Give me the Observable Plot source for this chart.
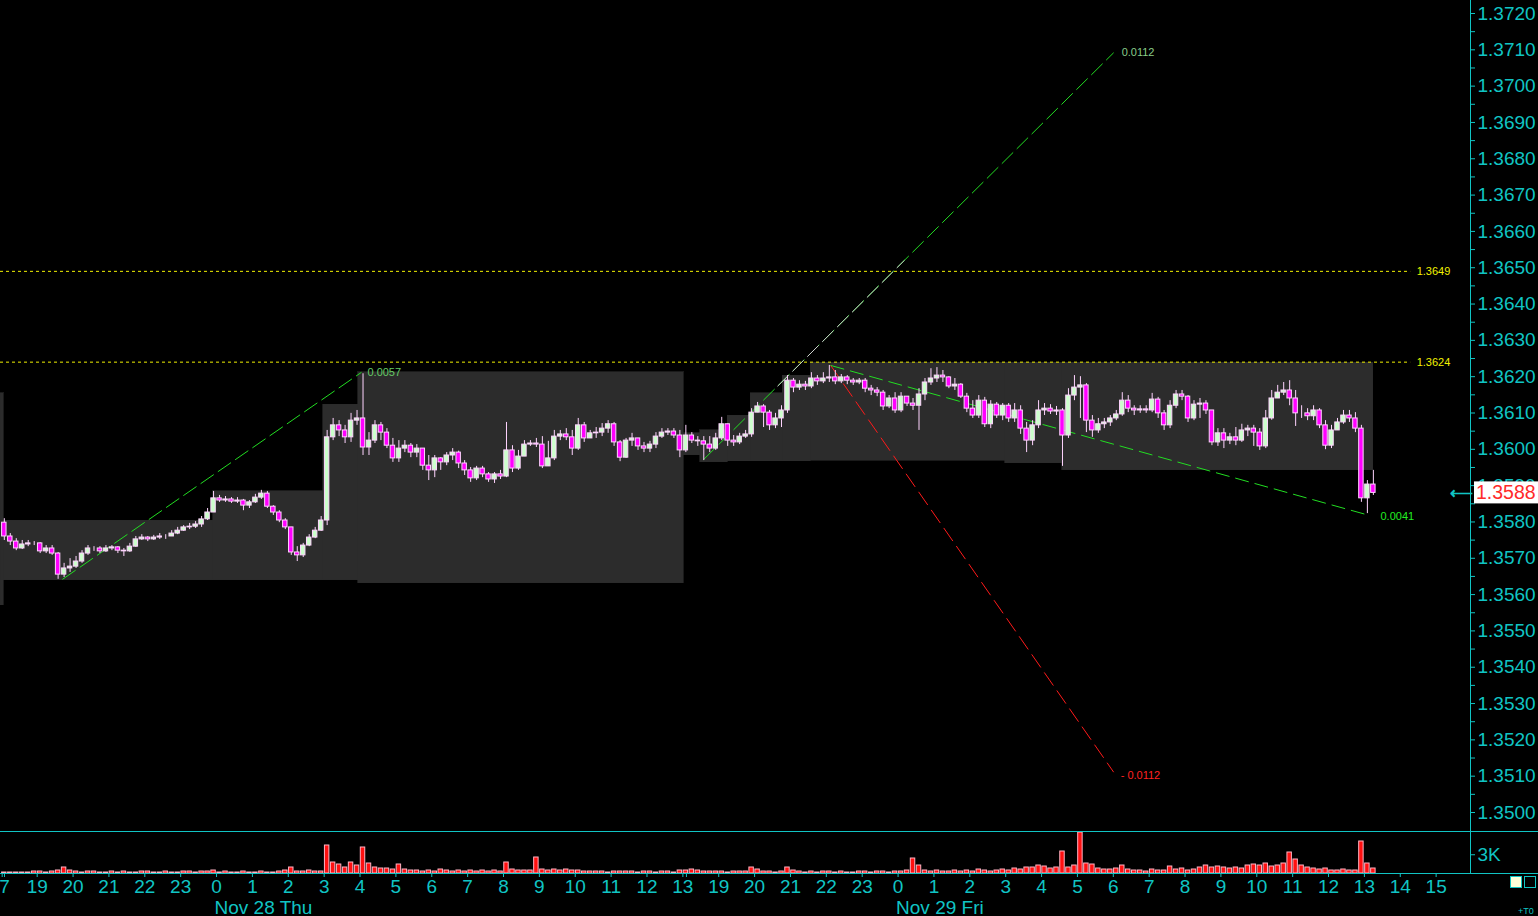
<!DOCTYPE html>
<html>
<head>
<meta charset="utf-8">
<script src="https://cdn.jsdelivr.net/npm/d3@7"></script>
<script src="https://cdn.jsdelivr.net/npm/@observablehq/plot@0.6"></script>
<style>
html,body{margin:0;padding:0;background:#000;}
#chart{position:relative;width:1538px;height:916px;overflow:hidden;background:#000;}
#chart svg{display:block;}
.sq{position:absolute;top:876px;width:10px;height:10px;border:1px solid #10c4c4;}
#tq{position:absolute;left:1518px;top:906px;font:9px 'Liberation Sans',Arial,sans-serif;color:#10c4c4;}
</style>
</head>
<body>
<div id="chart"></div>
<script>
// ---------------- data ----------------
// Price values are in pips (0.0001) above PRICE_BASE; one bar = 10 minutes (6 per hour slot)
const PRICE_BASE = 1.35, PIP = 0.0001;
const FIRST_SLOT = -1;         // hour slot where the first bar starts
const BARS_PER_HOUR = 6;
const firstOpenPips = 79.8;

const closePips = [
76.0,74.6,72.7,73.8,74.1,74.1,71.9,72.7,71.3,65.5,
67.2,67.7,69.1,71.3,72.7,72.7,71.9,72.7,73.0,72.1,
71.9,73.2,75.2,75.7,75.2,75.7,76.0,76.0,76.8,77.6,
78.5,78.7,79.3,80.7,82.6,86.5,85.9,86.2,85.6,85.9,
84.5,85.4,86.7,87.8,84.2,82.6,80.4,78.5,71.6,70.8,
73.5,75.7,77.6,80.4,103.3,106.6,105.2,103.3,107.9,108.5,
100.5,102.4,106.6,104.6,101.0,97.5,100.2,101.0,99.1,100.2,
95.5,94.2,97.5,96.4,98.3,99.1,96.1,94.2,92.0,94.7,
93.1,91.7,93.1,92.5,99.7,94.7,98.0,101.3,101.6,101.3,
95.3,97.5,103.5,104.1,103.3,100.2,106.6,103.0,104.4,104.6,
105.7,106.9,101.9,97.7,102.4,103.0,100.8,100.2,101.3,103.5,
104.6,104.9,103.8,99.7,103.8,102.4,102.2,101.3,100.2,103.0,
106.9,102.4,101.9,103.5,104.1,110.1,111.8,110.1,106.6,108.5,
110.7,118.9,117.0,117.8,117.3,119.5,118.7,119.5,119.8,118.7,
119.8,118.9,118.4,118.9,116.7,116.2,115.6,111.8,114.0,110.7,
114.5,112.6,112.0,115.1,118.4,119.5,120.3,119.8,117.3,117.8,
114.5,111.2,109.3,113.4,106.9,112.3,109.3,112.0,108.5,110.7,
105.7,102.4,106.6,110.7,111.2,110.4,110.7,103.8,114.8,117.0,
117.6,107.9,105.2,106.9,107.4,108.5,109.6,113.4,111.2,110.7,
111.0,110.7,113.7,109.9,106.6,112.0,115.1,114.5,108.5,112.3,
112.6,110.7,101.9,104.4,102.4,103.3,102.4,105.2,105.7,104.6,
100.8,108.5,114.0,115.6,116.2,114.0,109.9,109.9,109.1,110.7,
106.6,101.0,105.2,107.4,109.3,108.5,105.7,86.5,90.3,88.0];

const highPips = [
80.9,76.8,75.4,74.9,74.9,74.6,74.3,73.5,73.5,71.6,
68.6,69.9,70.5,72.1,73.5,73.2,73.2,73.5,73.5,73.2,
72.7,74.1,76.0,76.5,76.0,76.3,76.8,76.5,77.6,78.5,
79.0,79.6,80.1,81.5,83.7,88.4,87.3,87.0,86.7,86.7,
86.2,85.9,87.6,88.7,88.4,84.5,83.1,80.9,78.5,73.2,
74.1,76.5,78.5,81.5,105.2,108.5,107.9,106.6,109.9,110.7,
120.8,104.6,107.9,107.4,105.7,103.0,102.4,102.4,101.6,101.3,
100.2,98.3,98.3,97.7,99.1,100.2,99.5,96.9,95.0,95.3,
95.3,93.6,93.6,94.2,107.4,101.0,99.7,102.4,102.4,103.0,
103.5,102.2,105.2,105.2,105.7,105.2,108.5,107.4,105.2,106.0,
107.1,107.9,107.4,102.4,103.0,104.4,103.0,101.9,102.2,104.6,
105.7,105.7,105.7,105.2,106.6,104.6,103.5,103.5,103.5,104.4,
108.8,106.9,103.8,104.4,105.2,111.2,112.9,112.3,110.7,109.9,
112.0,120.3,119.5,118.9,118.7,121.1,120.3,121.1,123.1,121.7,
120.6,120.3,119.5,119.5,119.5,117.6,117.0,116.2,114.8,115.6,
115.6,114.5,114.0,116.7,119.5,122.2,122.5,121.7,120.0,119.5,
118.1,115.4,113.4,114.8,114.3,113.4,112.9,112.6,112.6,112.6,
112.0,107.4,107.9,113.4,112.6,112.3,111.8,111.2,116.7,120.3,
120.0,118.1,109.3,108.5,108.5,109.3,110.7,115.6,114.8,112.0,
112.0,112.0,115.4,114.3,110.7,113.4,116.2,116.2,114.8,113.4,
114.0,113.4,110.7,105.7,105.7,104.4,106.0,106.9,106.6,106.6,
105.7,110.7,116.2,117.6,118.4,118.9,116.2,112.0,111.2,112.0,
111.2,107.9,106.6,108.5,110.7,110.7,110.1,106.6,91.4,94.2];

const lowPips = [
74.9,73.5,72.1,72.4,73.2,73.5,71.3,71.3,70.8,64.2,
64.7,66.1,67.2,68.6,70.8,71.9,71.3,71.6,72.1,71.3,
70.5,71.6,73.0,74.9,74.6,74.9,75.2,75.2,76.0,76.5,
77.4,77.9,78.2,78.5,80.4,82.6,85.4,85.4,85.1,85.1,
83.1,83.7,85.1,86.2,83.7,81.8,79.8,77.9,70.8,69.1,
70.2,73.2,75.4,77.4,79.0,102.4,103.5,101.6,101.9,106.6,
98.3,98.3,101.6,102.4,100.2,96.4,96.4,99.1,97.7,97.7,
94.2,91.4,92.2,94.2,95.5,96.9,94.7,92.8,90.9,91.4,
92.2,90.9,90.6,91.7,92.2,93.6,94.2,98.0,100.8,100.5,
94.7,95.3,96.9,102.4,102.4,98.3,99.7,101.9,103.0,103.0,
103.5,104.4,100.8,96.6,97.5,100.8,99.7,99.1,99.1,100.2,
103.0,103.8,103.0,97.7,99.1,101.6,100.8,96.9,99.1,99.7,
102.4,100.8,100.8,101.3,103.0,103.3,110.1,106.0,105.2,105.7,
106.0,109.9,115.6,116.2,116.2,116.7,117.6,118.1,118.4,117.8,
118.1,117.8,117.6,117.8,115.6,114.8,114.5,110.7,111.2,109.9,
110.1,111.8,110.7,105.2,113.4,117.6,118.4,118.4,116.7,116.2,
114.0,110.1,108.5,108.5,106.0,105.7,108.5,107.9,107.4,107.4,
104.1,99.1,101.0,105.7,109.3,109.6,109.3,95.3,103.0,113.4,
108.5,104.6,103.3,104.4,105.7,106.3,107.9,109.1,110.1,109.3,
109.9,109.9,110.1,108.5,105.2,105.7,111.2,113.4,107.4,107.9,
108.5,109.6,101.0,100.8,100.2,101.3,101.0,101.9,103.5,100.8,
99.7,100.2,108.0,114.0,114.8,112.0,106.3,108.5,107.9,107.9,
105.7,99.9,100.2,105.2,106.9,107.4,104.6,85.4,82.3,87.3];

const volumes = [
160,160,160,160,160,320,320,160,320,480,
960,480,320,160,320,320,160,160,320,160,
320,160,160,320,320,160,160,320,160,160,
320,320,160,320,320,480,160,320,160,160,
320,160,160,320,160,160,320,480,960,320,
320,480,320,320,4480,1760,1440,960,1760,1280,
4160,1600,960,800,800,640,1440,640,480,480,
320,480,320,640,480,320,480,320,480,320,
480,320,480,320,1760,640,480,480,480,2560,
640,480,640,480,640,480,480,320,320,320,
320,160,320,320,320,320,160,320,320,160,
320,320,160,480,480,640,480,320,320,320,
320,160,320,320,320,960,640,320,320,160,
320,960,480,320,160,320,160,320,320,160,
320,160,160,320,320,160,320,320,160,320,
320,480,2400,1280,480,320,480,320,320,480,
320,480,320,640,480,320,480,640,480,800,
640,960,960,1280,1120,800,960,3520,960,1280,
6560,1600,1440,800,640,640,800,1280,640,480,
480,320,640,480,480,1120,640,800,480,640,
960,1280,960,1120,960,800,960,800,1280,1440,
1280,1600,1120,1280,1600,3360,2240,1280,960,800,
640,800,480,480,640,480,480,5120,1600,800];

// shaded high/low range boxes (hour slots, prices)
const bandFrom   = [-1.02, -0.93, 4.91, 7.98, 8.95, 18.02, 18.49, 19.25, 19.89, 20.78, 21.56, 26.99, 28.58];
const bandTo     = [-0.93, 4.91, 7.98, 8.95, 18.02, 18.49, 19.25, 19.89, 20.78, 21.56, 26.99, 28.58, 37.25];
const bandTop    = [1.36154,1.35804,1.35884,1.36123,1.36212,1.36044,1.36052,1.36093,1.36154,1.36203,1.36238,1.36238,1.36238];
const bandBottom = [1.35570,1.35639,1.35639,1.35639,1.35631,1.35983,1.35964,1.35967,1.35967,1.35967,1.35969,1.35961,1.35942];

// horizontal levels
const levelPrices = [1.3649, 1.3624];
const levelEnd = 38.29;

// drawn projection lines: start/end slot and price, label
const trendH1 = [0.705, 18.58, 22.12, 22.12];
const trendP1 = [1.35642, 1.35972, 1.36231, 1.36231];
const trendH2 = [9.04, 30.01, 30.01, 37.03];
const trendP2 = [1.36212, 1.37092, 1.35111, 1.35821];
const trendLabels = ["0.0057", "0.0112", "- 0.0112", "0.0041"];

// axis ticks
const priceTicks = d3.range(0, 23).map(k => +(1.35 + k * 0.001).toFixed(4));
const priceMinorTicks = d3.range(0, 22).map(k => +(1.3505 + k * 0.001).toFixed(4));
const hourTickSlots = [-0.976, -0.912, ...d3.range(0, 19), 18.1, ...d3.range(19, 40)];
const hourTickLabels = ["", "7",
  "19","20","21","22","23","0","1","2","3","4","5","6","7","8","9","10","11","12","13",
  "",
  "19","20","21","22","23","0","1","2","3","4","5","6","7","8","9","10","11","12","13","14","15"];
const dateSlots = [5, 24];
const dateLabels = ["Nov 28 Thu", "Nov 29 Fri"];
const volumeTicks = [3000];
const volumeTickLabels = ["3K"];

// ---------------- style ----------------
const W = 1538;
const X_DOMAIN = [-1.023, 39.958];
const CYAN = "#10c4c4";
const FONT = "'Liberation Sans', Arial, Helvetica, sans-serif";
const UP = "#ccffcc", DOWN = "#ff00ff", OUTLINE = "#ffd4ff", WICK = "#ffd4ff";
const BODY_HALF = 0.062, VOL_HALF = 0.062;
const HIGHLIGHT = [0.18, 0.49]; // lighter part of the rising projection line (fraction of its length)

// ---------------- build ----------------
const bars = closePips.map((c, i) => {
  const o = i === 0 ? firstOpenPips : closePips[i - 1];
  return {
    h: FIRST_SLOT + (i + 0.5) / BARS_PER_HOUR,
    open: PRICE_BASE + o * PIP, close: PRICE_BASE + c * PIP,
    high: PRICE_BASE + highPips[i] * PIP, low: PRICE_BASE + lowPips[i] * PIP,
    vol: volumes[i], color: c >= o ? UP : DOWN
  };
});
const bands = bandFrom.map((f, i) => ({from: f, to: bandTo[i], top: bandTop[i], bottom: bandBottom[i]}));
const levels = levelPrices.map(p => ({price: p, from: X_DOMAIN[0], to: levelEnd}));
const trends = trendH1.map((h, i) => ({h1: h, p1: trendP1[i], h2: trendH2[i], p2: trendP2[i], label: trendLabels[i]}));
const lastClose = bars[bars.length - 1].close;
const hourLabelMap = new Map(hourTickSlots.map((s, i) => [s, hourTickLabels[i]]));
const dates = dateSlots.map((s, i) => ({h: s, label: dateLabels[i]}));
const t2 = trends[1];
const hl = [{
  h1: t2.h1 + (t2.h2 - t2.h1) * HIGHLIGHT[0], p1: t2.p1 + (t2.p2 - t2.p1) * HIGHLIGHT[0],
  h2: t2.h1 + (t2.h2 - t2.h1) * HIGHLIGHT[1], p2: t2.p1 + (t2.p2 - t2.p1) * HIGHLIGHT[1]
}];

const trendStyles = [
  {stroke: "#22dd22", dash: "16,5", labelFill: "#66cc66", dx: 6, dy: 0},
  {stroke: "#22dd22", dash: "16,5", labelFill: "#88cc88", dx: 8, dy: 0},
  {stroke: "#ff1a1a", dash: "16,6", labelFill: "#ff2020", dx: 7, dy: 3},
  {stroke: "#22dd22", dash: "14,6", labelFill: "#22ee22", dx: 15, dy: 2}
];

const trendMarks = trends.flatMap((t, i) => [
  Plot.link([t], {x1: "h1", y1: "p1", x2: "h2", y2: "p2", stroke: trendStyles[i].stroke, strokeDasharray: trendStyles[i].dash, strokeWidth: 1}),
  Plot.text([t], {x: "h2", y: "p2", text: "label", dx: trendStyles[i].dx, dy: trendStyles[i].dy, textAnchor: "start", fill: trendStyles[i].labelFill, fontSize: 11, letterSpacing: "0.5px"})
]);

const price = Plot.plot({
  width: W, height: 831,
  marginTop: 0, marginBottom: 0, marginLeft: 0, marginRight: 68,
  style: {background: "#000", color: CYAN, fontFamily: FONT, fontSize: "19px", overflow: "visible"},
  x: {domain: X_DOMAIN, axis: null},
  y: {domain: [1.3500, 1.3720], range: [812, 13], axis: null},
  marks: [
    Plot.rect(bands, {x1: "from", x2: "to", y1: "bottom", y2: "top", fill: "#2c2c2c", stroke: "#2c2c2c", strokeWidth: 0.6, shapeRendering: "crispEdges"}),
    Plot.ruleY(levels, {y: "price", x1: "from", x2: "to", stroke: "#f2f200", strokeDasharray: "3,3"}),
    Plot.text(levels, {x: "to", y: "price", text: d => d.price.toFixed(4), dx: 6, textAnchor: "start", fill: "#f2f200", fontSize: 11, letterSpacing: "0.5px"}),
    ...trendMarks,
    Plot.link(hl, {x1: "h1", y1: "p1", x2: "h2", y2: "p2", stroke: "#cfcfcf", strokeDasharray: "16,5", strokeWidth: 1}),
    Plot.ruleX(bars, {x: "h", y1: "low", y2: "high", stroke: WICK, strokeWidth: 1}),
    Plot.rect(bars, {x1: d => d.h - BODY_HALF, x2: d => d.h + BODY_HALF, y1: "open", y2: "close", fill: "color", stroke: OUTLINE, strokeWidth: 1}),
    Plot.axisY({anchor: "right", label: null, ticks: priceTicks, tickFormat: d => d.toFixed(4), tickSize: 4, tickPadding: 3}),
    Plot.axisY({anchor: "right", label: null, ticks: priceMinorTicks, tickFormat: () => "", tickSize: 4}),
    Plot.ruleX([X_DOMAIN[1]], {stroke: CYAN}),
    Plot.text([lastClose], {x: X_DOMAIN[1], y: d => d, text: () => "⟵", dx: -9, fill: CYAN, fontSize: 16, fontWeight: "bold"})
  ]
});

// last price tag
{
  const yLast = price.scale("y").apply(lastClose);
  const xEdge = price.scale("x").apply(X_DOMAIN[1]);
  const g = d3.select(price).append("g");
  g.append("rect").attr("x", xEdge + 4).attr("y", yLast - 11).attr("width", W - xEdge - 4).attr("height", 22).attr("fill", "#ffffff");
  g.append("text").attr("x", xEdge + 6).attr("y", yLast).attr("dy", "0.36em").attr("text-anchor", "start")
    .attr("fill", "#ff2a2a").attr("font-size", 19.5).attr("font-family", FONT).text(lastClose.toFixed(4));
}

const volume = Plot.plot({
  width: W, height: 85,
  marginTop: 0, marginBottom: 43, marginLeft: 0, marginRight: 68,
  style: {background: "#000", color: CYAN, fontFamily: FONT, fontSize: "19px", overflow: "visible"},
  x: {domain: X_DOMAIN, axis: null},
  y: {domain: [0, 6720], axis: null},
  marks: [
    Plot.rect(bars, {x1: d => d.h - VOL_HALF, x2: d => d.h + VOL_HALF, y1: () => 0, y2: "vol", fill: "#ff1010", stroke: "#ffb4c4", strokeWidth: 1}),
    Plot.axisX({anchor: "bottom", label: null, ticks: hourTickSlots, tickFormat: d => hourLabelMap.get(d), tickSize: 4, tickPadding: 2}),
    Plot.axisY({anchor: "right", label: null, ticks: volumeTicks, tickFormat: (d) => volumeTickLabels[volumeTicks.indexOf(d)], tickSize: 4, tickPadding: 3}),
    Plot.ruleX([X_DOMAIN[1]], {stroke: CYAN}),
    Plot.text(dates, {x: "h", text: "label", frameAnchor: "bottom", dy: 40, dx: -2, textAnchor: "start", fill: CYAN, fontSize: 19})
  ]
});
{
  const s = d3.select(volume);
  s.append("line").attr("x1", 0).attr("x2", W).attr("y1", 0.5).attr("y2", 0.5).attr("stroke", CYAN);
  s.append("line").attr("x1", 0).attr("x2", W).attr("y1", 42.5).attr("y2", 42.5).attr("stroke", CYAN);
}

const root = document.getElementById("chart");
root.appendChild(price);
root.appendChild(volume);
const sq1 = document.createElement("div"); sq1.className = "sq"; sq1.style.left = "1510px"; sq1.style.background = "#ffffd8"; root.appendChild(sq1);
const sq2 = document.createElement("div"); sq2.className = "sq"; sq2.style.left = "1524px"; root.appendChild(sq2);
const tq = document.createElement("div"); tq.id = "tq"; tq.textContent = "+T0"; root.appendChild(tq);
</script>
</body>
</html>
